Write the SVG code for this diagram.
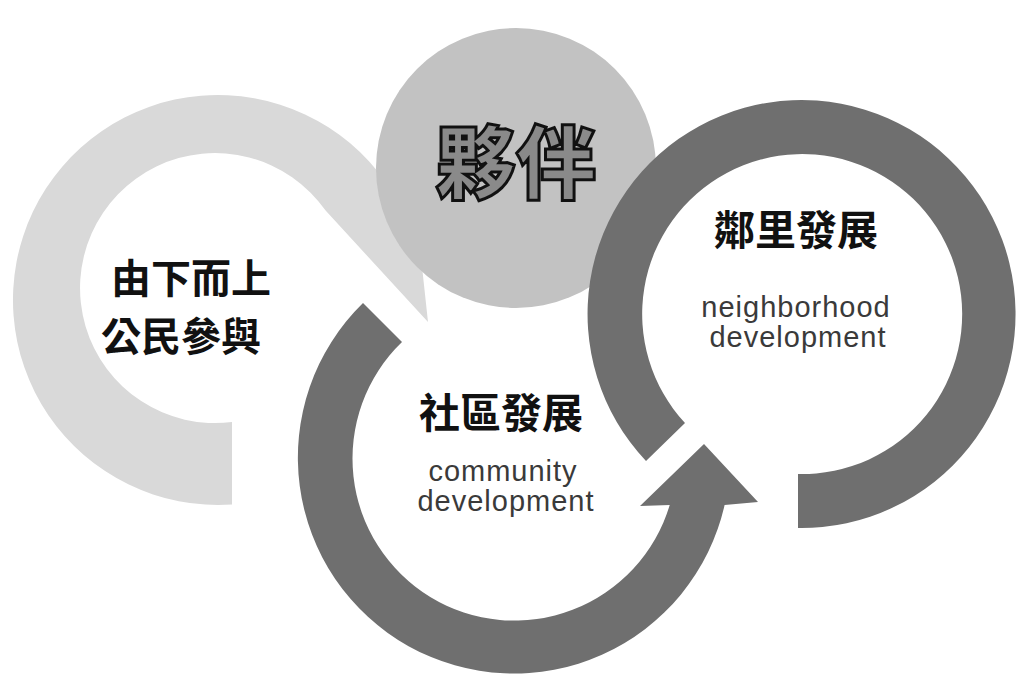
<svg xmlns="http://www.w3.org/2000/svg" width="1017" height="675" viewBox="0 0 1017 675">
<style>
.bg{fill:#ffffff}
.light{fill:#d9d9d9}
.mid{fill:#c2c2c2}
.dark{fill:#6f6f6f}
.zh{font-family:"Noto Sans CJK TC","Noto Sans CJK SC",sans-serif;font-weight:700;fill:#111;text-anchor:middle}
.big{font-family:"Noto Sans CJK TC","Noto Sans CJK SC",sans-serif;font-weight:900;fill:#8a8a8a;stroke:#111;stroke-width:3;text-anchor:middle}
.en{font-family:"Liberation Sans","Arial",sans-serif;fill:#3a3a3a;text-anchor:middle;font-size:29px;letter-spacing:1px}
</style>
<rect class="bg" x="0" y="0" width="1017" height="675"/>
<g id="connectors">
  <path id="ring-bottomup" class="light" d="M232,504.5 A205,205 0 1 1 385.9,182.4 L411,165 L428,322 L325.6,210.6 A135,135 0 1 0 232,422 Z"/>
</g>
<g id="node-partner">
  <circle class="mid" cx="516" cy="168" r="140"/>
  <text class="big" x="516" y="192" font-size="80">夥伴</text>
</g>
<g id="node-bottomup">
  <text class="zh" x="191" y="293" font-size="40">由下而上</text>
  <text class="zh" x="181" y="351" font-size="40">公民參與</text>
</g>
<g id="node-community">
  <path class="dark" d="M363,303 A216,216 0 1 0 724.6,505 L758,502 L704,444 L640,506 L669.7,505 A162,162 0 1 1 402,342 Z"/>
  <text class="zh" x="501" y="428" font-size="41">社區發展</text>
  <text class="en" x="503" y="481">community</text>
  <text class="en" x="506" y="511">development</text>
</g>
<g id="node-neighborhood">
  <path class="dark" d="M646,461 A214,214 0 1 1 798,528 L798,474 A160,160 0 1 0 685,423 Z"/>
  <text class="zh" x="796" y="245" font-size="41">鄰里發展</text>
  <text class="en" x="796" y="317">neighborhood</text>
  <text class="en" x="798" y="347">development</text>
</g>
</svg>
